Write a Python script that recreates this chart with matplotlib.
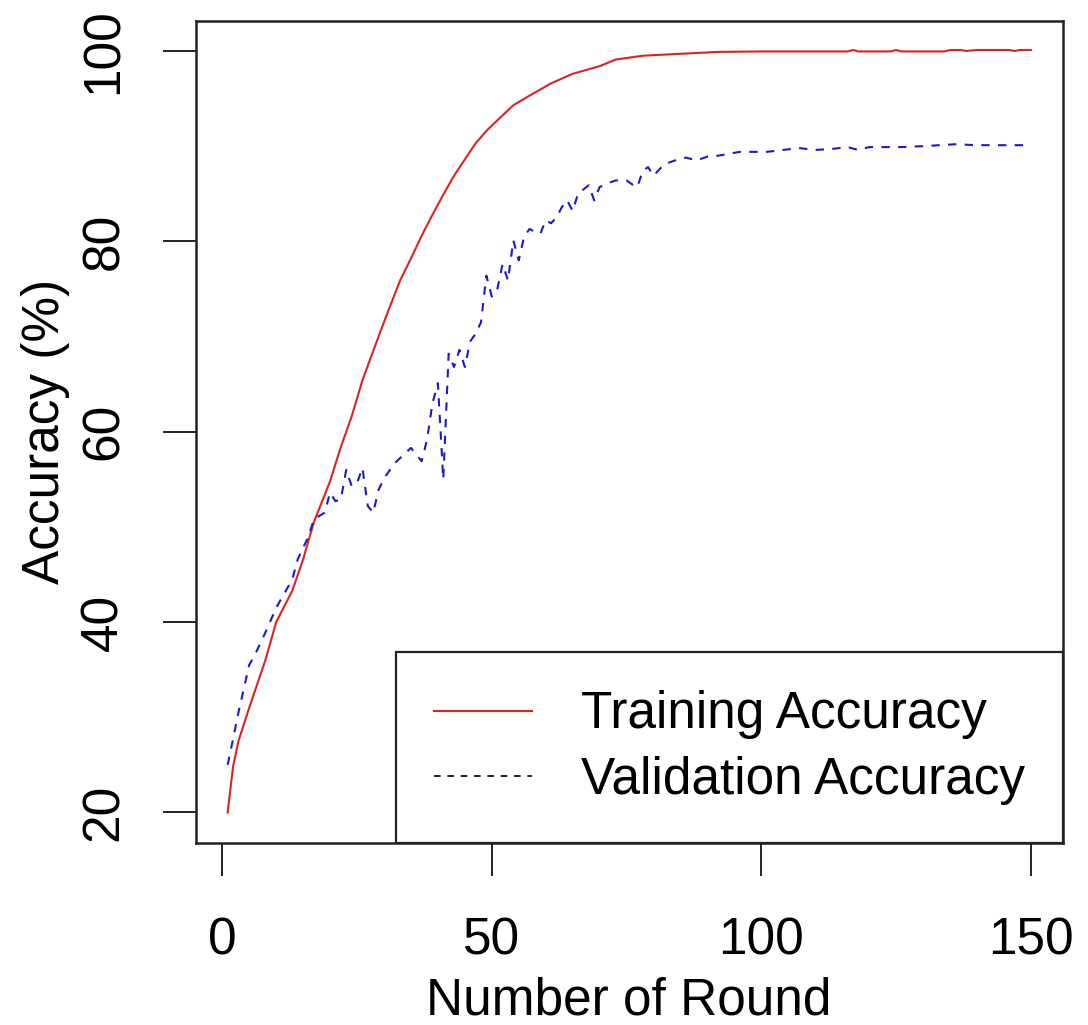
import matplotlib.pyplot as plt
from matplotlib.lines import Line2D

plt.rcParams['font.family'] = ['Liberation Sans', 'DejaVu Sans']

# values
train_rounds = [1, 2, 3, 5, 8, 10, 13, 15, 17, 20, 22, 24, 26, 29, 31, 33, 35, 37, 39,
                41, 43, 45, 47, 49, 51, 54, 57, 61, 65, 70, 73, 78, 85, 92, 100, 110,
                116, 117, 118, 124, 125, 126, 134, 135, 137, 138, 140, 146, 147, 148, 150]
train_acc = [20.0, 24.8, 27.5, 31.0, 36.0, 40.0, 43.3, 46.6, 50.5, 54.8, 58.4, 61.6,
             65.4, 70.0, 73.0, 75.9, 78.2, 80.6, 82.8, 84.9, 86.9, 88.6, 90.3, 91.6,
             92.7, 94.3, 95.3, 96.6, 97.6, 98.4, 99.1, 99.5, 99.7, 99.9, 99.95, 99.95,
             99.95, 100.1, 99.95, 99.95, 100.1, 99.95, 99.95, 100.1, 100.1, 100.0,
             100.1, 100.1, 100.0, 100.1, 100.1]

val_rounds = [1, 2, 3, 4, 5, 6, 8, 10, 12, 13, 14, 16, 17, 19, 20, 21, 22, 23, 24, 25,
              26, 27, 28, 29, 30, 32, 35, 37, 38, 39, 40, 41, 42, 43, 44, 45, 46, 47,
              48, 49, 50, 51, 52, 53, 54, 55, 56, 57, 58, 59, 60, 61, 62, 63, 64, 65,
              66, 68, 69, 70, 72, 73, 75, 76, 77, 78, 79, 80, 82, 84, 86, 88, 90, 92,
              96, 101, 107, 110, 113, 116, 118, 120, 126, 130, 136, 140, 145, 150]
val_acc = [25.0, 27.7, 30.5, 33.0, 35.5, 36.5, 38.9, 41.5, 43.5, 44.5, 46.6, 49.0,
           50.8, 51.5, 53.6, 52.7, 52.9, 56.0, 54.3, 54.6, 56.2, 52.2, 51.5, 53.9,
           55.1, 56.7, 58.3, 56.9, 59.2, 63.0, 65.1, 55.0, 68.2, 66.8, 68.6, 66.8,
           69.5, 70.3, 71.5, 76.4, 74.2, 74.9, 77.6, 75.9, 80.1, 78.0, 80.5, 81.3,
           81.0, 80.8, 82.2, 81.9, 82.5, 83.6, 84.3, 83.2, 85.0, 85.9, 84.3, 85.7,
           86.2, 86.4, 86.4, 86.0, 85.7, 87.4, 87.8, 86.9, 88.1, 88.5, 88.8, 88.5,
           88.9, 89.0, 89.4, 89.4, 89.8, 89.6, 89.7, 89.9, 89.6, 89.9, 89.9, 90.0,
           90.2, 90.1, 90.1, 90.1]

x_ticks = [0, 50, 100, 150]
y_ticks = [20, 40, 60, 80, 100]
labels = ["Training Accuracy", "Validation Accuracy"]

fs = 37
fig = plt.figure(figsize=(10.88, 10.25), dpi=100)
ax = fig.add_axes([0.1797, 0.1776, 0.7973, 0.8024])

ax.plot(train_rounds, train_acc, color='#dd2222', lw=1.5)
ax.plot(val_rounds, val_acc, color='#1a1acc', lw=1.5, ls=(0, (4, 4)))

ax.set_xlim(-4.96, 155.96)
ax.set_ylim(16.8, 103.2)
ax.set_xticks(x_ticks)
ax.set_yticks(y_ticks)
ax.set_xticklabels([str(v) for v in x_ticks], fontsize=fs)
ax.set_yticklabels([str(v) for v in y_ticks], fontsize=fs, rotation=90, va='center')
ax.tick_params(direction='out', length=24, width=1.4, color='#222222')
ax.tick_params(axis='x', pad=29)
ax.tick_params(axis='y', pad=24)

for s in ax.spines.values():
    s.set_linewidth(1.8)
    s.set_color('#222222')

ax.set_xlabel("Number of Round", fontsize=fs, labelpad=8)
ax.set_ylabel("Accuracy (%)", fontsize=fs, labelpad=7)

# legend sample for validation is black in the original
handles = [Line2D([], [], color='#dd2222', lw=1.5),
           Line2D([], [], color='black', lw=1.2, ls=(0, (4, 4)))]
leg = ax.legend(handles, labels, loc='lower right', bbox_to_anchor=(1, 0),
                borderaxespad=0, fontsize=fs, fancybox=False, framealpha=1,
                edgecolor='#222222', borderpad=0.74, handlelength=1.9,
                handletextpad=0.95, labelspacing=0.32)
leg.get_frame().set_linewidth(1.6)

fig.savefig("out.png", dpi=100)
